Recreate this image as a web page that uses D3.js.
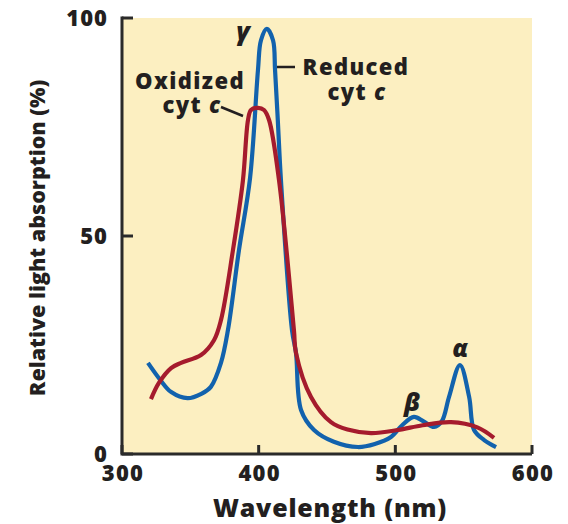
<!DOCTYPE html>
<html><head><meta charset="utf-8">
<script src="https://cdn.jsdelivr.net/npm/d3@7"></script>
<style>body{margin:0;background:#fff}svg{display:block}text{font-family:"Open Sans",sans-serif;font-weight:800;fill:#231f20}</style>
</head><body>
<svg id="c" width="568" height="524"></svg>
<script>
const reducedNm  = [319,328,336,348,358,365,372.4,377.5,385.6,393.7,399.5,401.7,406,410.5,412,414,416.3,424.4,427.3,431,440.5,455,472.7,485,496.8,505,513.6,521,528.3,534,539.3,547.3,554,557.6,565,573.7];
const reducedAbs = [20.9,17,14.2,12.8,13.8,15.4,20.9,28.4,46.8,63.3,88.1,94.9,97.5,94.9,88,76.6,62.8,28.4,23.2,10.1,5.5,2.8,1.6,2.3,3.9,6.6,8.5,7.4,6.2,7.5,13.1,20.4,13.1,5.5,3.2,1.6];
const oxidizedNm  = [321.2,327,335.9,343.2,357.8,367.3,372.4,381.2,388.5,392.2,394.4,399.5,403.9,407.6,414.9,425.8,427.3,438.3,452.9,465,482.2,501.9,520,540.7,560,572.2];
const oxidizedAbs = [12.6,16.3,19.7,20.9,22.7,26.1,30.7,46.8,62.8,76.6,78.9,79.4,78.9,76.6,62.8,28.4,23.2,13.1,7.3,5.6,4.8,5.5,6.6,7.3,6.1,3.7];
const xTicks = [300,400,500,600];
const yTicks = [0,50,100];

const svg = d3.select("#c");
const x = d3.scaleLinear().domain([300,600]).range([122,532]);
const y = d3.scaleLinear().domain([0,100]).range([454,18]);

svg.append("rect").attr("x",x(300)).attr("y",y(100)).attr("width",x(600)-x(300)).attr("height",y(0)-y(100)).attr("fill","#fcefc1");

const line = d3.line().x(d=>x(d[0])).y(d=>y(d[1])).curve(d3.curveCatmullRom.alpha(0.5));
const red = oxidizedNm.map((v,i)=>[v,oxidizedAbs[i]]);
const blue = reducedNm.map((v,i)=>[v,reducedAbs[i]]);
svg.append("path").attr("d",line(blue)).attr("fill","none").attr("stroke","#1262ad").attr("stroke-width",4.2);
svg.append("path").attr("d",line(red)).attr("fill","none").attr("stroke","#a51b2d").attr("stroke-width",4.2);

// axes
const ax = svg.append("g").attr("stroke","#2a2a2a").attr("stroke-width",3).attr("fill","none");
ax.append("path").attr("d",`M${x(300)},${y(100)-1.5}V${y(0)}H${x(600)}`);
yTicks.forEach(t=>{ ax.append("line").attr("x1",x(300)).attr("x2",x(300)+11).attr("y1",y(t)).attr("y2",y(t)); });
xTicks.forEach(t=>{ ax.append("line").attr("x1",x(t)).attr("x2",x(t)).attr("y1",y(0)).attr("y2",y(0)-9); });

svg.selectAll(".yl").data(yTicks).enter().append("text").attr("x",108).attr("y",d=>y(d)+8).attr("text-anchor","end").attr("font-size",22).attr("letter-spacing",1).text(d=>d);
svg.selectAll(".xl").data(xTicks).enter().append("text").attr("x",d=>x(d)+1).attr("y",481).attr("text-anchor","middle").attr("font-size",22).attr("letter-spacing",1.2).text(d=>d);

svg.append("text").attr("x",330).attr("y",517).attr("text-anchor","middle").attr("font-size",25).attr("letter-spacing",0.8).text("Wavelength (nm)");
svg.append("text").attr("transform","translate(45,238) rotate(-90)").attr("text-anchor","middle").attr("font-size",21.5).text("Relative light absorption (%)");

// annotations
const ls = 1.4, fs = 22;
svg.append("text").attr("x",356).attr("y",75).attr("text-anchor","middle").attr("font-size",fs).attr("letter-spacing",ls).text("Reduced");
const rc = svg.append("text").attr("x",357).attr("y",100).attr("text-anchor","middle").attr("font-size",fs).attr("letter-spacing",ls);
rc.append("tspan").text("cyt ");
rc.append("tspan").attr("font-style","italic").text("c");
svg.append("text").attr("x",190).attr("y",89).attr("text-anchor","middle").attr("font-size",fs).attr("letter-spacing",ls).text("Oxidized");
const oc = svg.append("text").attr("x",192).attr("y",113).attr("text-anchor","middle").attr("font-size",fs).attr("letter-spacing",ls);
oc.append("tspan").text("cyt ");
oc.append("tspan").attr("font-style","italic").text("c");
svg.append("line").attr("x1",277).attr("x2",295).attr("y1",67).attr("y2",67).attr("stroke","#231f20").attr("stroke-width",2.5);
svg.append("line").attr("x1",221).attr("x2",243).attr("y1",107).attr("y2",116).attr("stroke","#231f20").attr("stroke-width",2.5);

const greek = (t,px,py)=>svg.append("text").attr("x",px).attr("y",py).attr("text-anchor","middle").attr("font-size",25).attr("font-style","italic").attr("font-weight",700).attr("font-family","DejaVu Serif").text(t);
greek("γ",243,40);
greek("β",412,411);
greek("α",460,357);
</script>
</body></html>
